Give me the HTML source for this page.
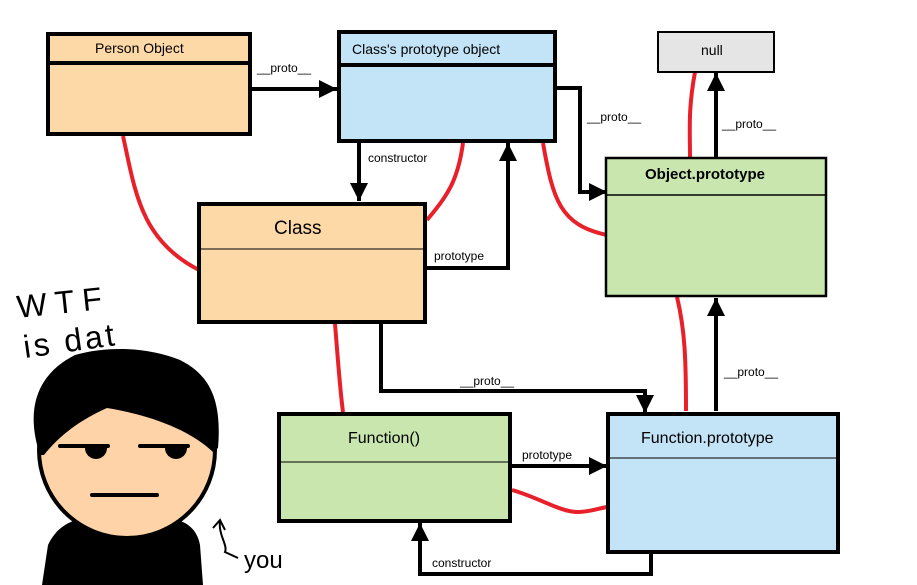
<!DOCTYPE html>
<html><head><meta charset="utf-8"><style>
html,body{margin:0;padding:0;background:#fff;}
svg{display:block;}
text{font-family:"Liberation Sans",sans-serif;fill:#000;}
</style></head><body>
<svg width="917" height="585" viewBox="0 0 917 585" xmlns="http://www.w3.org/2000/svg">
<defs>
<marker id="ah" markerWidth="4.5" markerHeight="4.5" refX="4.5" refY="2.25" orient="auto" markerUnits="strokeWidth">
<path d="M0,0 L4.5,2.25 L0,4.5 z" fill="#000"/></marker>
</defs>
<!-- red curves -->
<g fill="none" stroke="#e8202a" stroke-width="4">
<path d="M123,136 C135,190 140,240 199,270"/>
<path d="M463,143 C458,180 448,195 427,220"/>
<path d="M543,143 C553,200 560,225 607,235"/>
<path d="M695,72 C688,110 690,130 690,157"/>
<path d="M335,324 C338,360 340,390 343,412"/>
<path d="M677,297 C685,330 686,360 686,411"/>
<path d="M512,490 C540,498 560,512 578,512 C590,512 600,508 607,507"/>
</g>
<!-- boxes -->
<rect x="48" y="34" width="202" height="100" fill="#fed9a8" stroke="#000" stroke-width="4"/>
<line x1="48" y1="63" x2="250" y2="63" stroke="#000" stroke-width="4"/>
<text x="95" y="53" font-size="14">Person Object</text>

<rect x="339" y="32" width="216" height="109" fill="#c3e3f6" stroke="#000" stroke-width="4"/>
<line x1="339" y1="65" x2="555" y2="65" stroke="#000" stroke-width="4"/>
<text x="352" y="54" font-size="14">Class's prototype object</text>

<rect x="658" y="32" width="116" height="40" fill="#e5e5e5" stroke="#000" stroke-width="2"/>
<text x="701" y="55" font-size="14">null</text>

<rect x="606" y="158" width="220" height="138" fill="#c8e6ae" stroke="#000" stroke-width="2.5"/>
<line x1="606" y1="195" x2="826" y2="195" stroke="#000" stroke-width="1.5"/>
<text x="645" y="179" font-size="15" font-weight="bold">Object.prototype</text>

<rect x="199" y="204" width="226" height="118" fill="#fed9a8" stroke="#000" stroke-width="4"/>
<line x1="199" y1="249" x2="425" y2="249" stroke="#000" stroke-width="1"/>
<text x="274" y="234" font-size="19">Class</text>

<rect x="279" y="414" width="231" height="107" fill="#c8e6ae" stroke="#000" stroke-width="4"/>
<line x1="279" y1="462" x2="510" y2="462" stroke="#000" stroke-width="1"/>
<text x="348" y="443" font-size="16">Function()</text>

<rect x="608" y="414" width="230" height="138" fill="#c3e3f6" stroke="#000" stroke-width="4"/>
<line x1="608" y1="458" x2="838" y2="458" stroke="#000" stroke-width="1"/>
<text x="641" y="443" font-size="16">Function.prototype</text>

<!-- arrows -->
<g fill="none" stroke="#000" stroke-width="4">
<path d="M252,89 L337,89" marker-end="url(#ah)"/>
<path d="M557,88 L580,88 L580,192 L607,192" marker-end="url(#ah)"/>
<path d="M359,143 L359,201" marker-end="url(#ah)"/>
<path d="M427,268 L508,268 L508,143" marker-end="url(#ah)"/>
<path d="M381,324 L381,391 L645,391 L645,413" marker-end="url(#ah)"/>
<path d="M512,466 L607,466" marker-end="url(#ah)"/>
<path d="M651,552 L651,574 L420,574 L420,523" marker-end="url(#ah)"/>
<path d="M716,411 L716,298" marker-end="url(#ah)"/>
<path d="M716,157 L716,73" marker-end="url(#ah)"/>
</g>
<g font-size="12">
<text x="257" y="72">__proto__</text>
<text x="587" y="121">__proto__</text>
<text x="368" y="162">constructor</text>
<text x="434" y="260">prototype</text>
<text x="460" y="385">__proto__</text>
<text x="522" y="459">prototype</text>
<text x="432" y="567">constructor</text>
<text x="724" y="376">__proto__</text>
<text x="722" y="128">__proto__</text>
</g>
<!-- person -->
<path d="M42,585 L48,545 C60,520 80,515 127,515 C175,515 195,520 200,545 L203,585 Z" fill="#000"/>
<circle cx="127" cy="450" r="88" fill="#fdd3a7" stroke="#000" stroke-width="4"/>
<path d="M40,455 C22,400 45,370 75,355 C110,345 150,348 180,360 C210,375 222,400 218,448 L213,452 C190,430 150,415 107,408 C80,420 60,435 44,455 Z" fill="#000"/>
<g stroke="#000" stroke-width="4" stroke-linecap="round">
<line x1="60" y1="446" x2="108" y2="446"/>
<line x1="140" y1="446" x2="188" y2="446"/>
<line x1="92" y1="495" x2="157" y2="495"/>
</g>
<path d="M85,448 a11,11 0 0 0 22,0 Z" fill="#000"/>
<path d="M165,448 a11,11 0 0 0 22,0 Z" fill="#000"/>
<text x="18" y="318" font-size="32" transform="rotate(-6 18 318)" style="letter-spacing:8px">WTF</text>
<text x="25" y="358" font-size="32" transform="rotate(-8 25 358)" style="letter-spacing:3px">is dat</text>
<path d="M213,528 L220,520 L225,530 M220,520 C218,535 228,545 225,552 L238,558" fill="none" stroke="#000" stroke-width="2"/>
<text x="244" y="568" font-size="24">you</text>
</svg>
</body></html>
